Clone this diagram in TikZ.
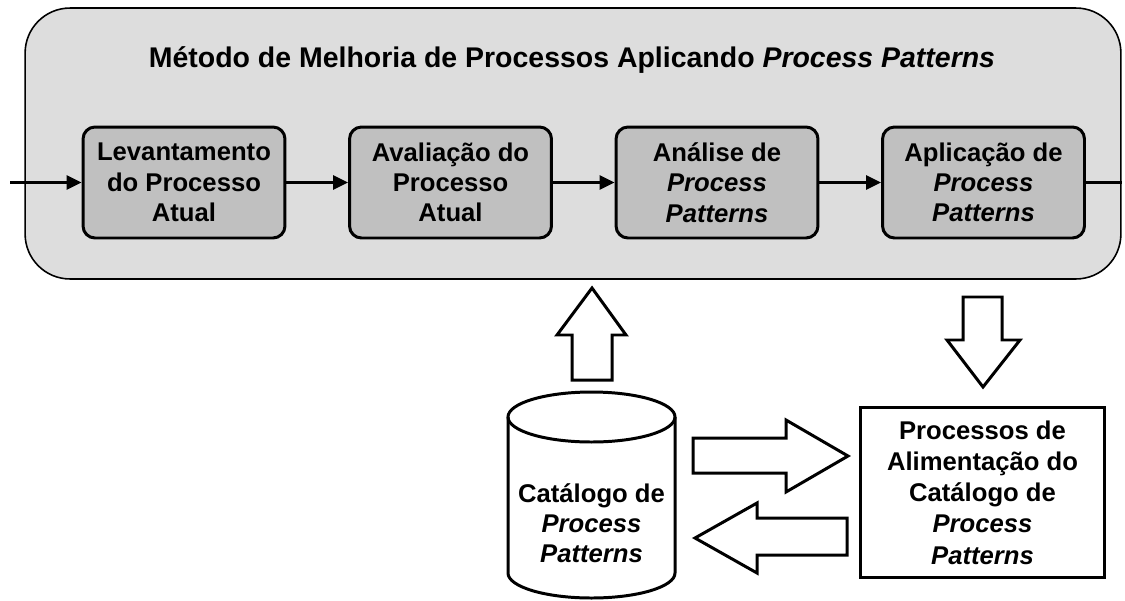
\documentclass[tikz,border=0pt]{standalone}
\usepackage{fontspec}
\setmainfont{Liberation Sans}
\usetikzlibrary{arrows.meta}
\definecolor{framegray}{RGB}{221,221,221}
\definecolor{stepgray}{RGB}{192,192,192}
\tikzset{
  stepbox/.style={draw, line width=1.7pt, rounded corners=0.24cm, fill=stepgray,
    minimum width=4.04cm, minimum height=2.22cm, align=center,
    font=\bfseries\fontsize{14.6}{17.2}\selectfont},
  flow/.style={line width=1.4pt, -{Triangle[length=8.5pt,width=8pt]}},
  blockarrow/.style={draw, line width=1.7pt, fill=white, line join=miter},
}
\begin{document}
\begin{tikzpicture}[x=0.02cm, y=0.02cm]
  \useasboundingbox (0,0) rectangle (1125,600);

  % Method frame
  \node (method) [draw, line width=0.9pt, rounded corners=0.9cm, fill=framegray,
    minimum width=21.92cm, minimum height=5.42cm] at (573,456.5) {};
  \node (title) [anchor=base, font=\bfseries\fontsize{16.2}{19}\selectfont] at (572,533)
    {Método de Melhoria de Processos Aplicando \textit{Process Patterns}};

  % Steps of the method
  \foreach \x/\txt [count=\i] in {184/{Levantamento\\do Processo\\Atual},
      450.5/{Avaliação do\\Processo\\Atual},
      717/{Análise de\\\textit{Process}\\\textit{Patterns}},
      983.5/{Aplicação de\\\textit{Process}\\\textit{Patterns}}} {
    \node (S\i) [stepbox] at (\x,417.5) {\txt};
  }

  % Flow between steps
  \coordinate (in) at (10,417.5);
  \draw[flow] (in) -- (S1);
  \foreach \a/\b in {S1/S2, S2/S3, S3/S4} {
    \draw[flow] (\a) -- (\b);
  }
  \draw[line width=1.4pt] (S4) -- (S4.east -| method.east);

  % Catalog of process patterns
  \draw[line width=1.7pt, fill=white] (508,183) -- (508,27)
    arc[start angle=180, end angle=360, x radius=83.5, y radius=25] -- (675,183);
  \draw[line width=1.7pt] (591.5,183) ellipse [x radius=83.5, y radius=25];
  \node (cat) [align=center, font=\bfseries\fontsize{14.6}{17.2}\selectfont] at (591.5,77)
    {Catálogo de\\\textit{Process}\\\textit{Patterns}};

  % Feeding processes
  \node (feed) [draw, line width=1.7pt, minimum width=4.9cm, minimum height=3.42cm,
    align=center, font=\bfseries\fontsize{14.6}{17.8}\selectfont] at (982.5,107.5)
    {Processos de\\Alimentação do\\Catálogo de\\\textit{Process}\\\textit{Patterns}};

  % Block arrows
  \draw[blockarrow] (572,220) -- (572,265) -- (557,265) -- (592,312) -- (626,265)
    -- (612,265) -- (612,220) -- cycle;
  \draw[blockarrow] (963,303) -- (963,260) -- (947,260) -- (983,213) -- (1020,260)
    -- (1002,260) -- (1002,303) -- cycle;
  \draw[blockarrow] (693,162) -- (786,162) -- (786,180) -- (848,144) -- (786,108)
    -- (786,127) -- (693,127) -- cycle;
  \draw[blockarrow] (847,82) -- (757,82) -- (757,97) -- (695,62) -- (757,27)
    -- (757,45) -- (847,45) -- cycle;
\end{tikzpicture}
\end{document}
